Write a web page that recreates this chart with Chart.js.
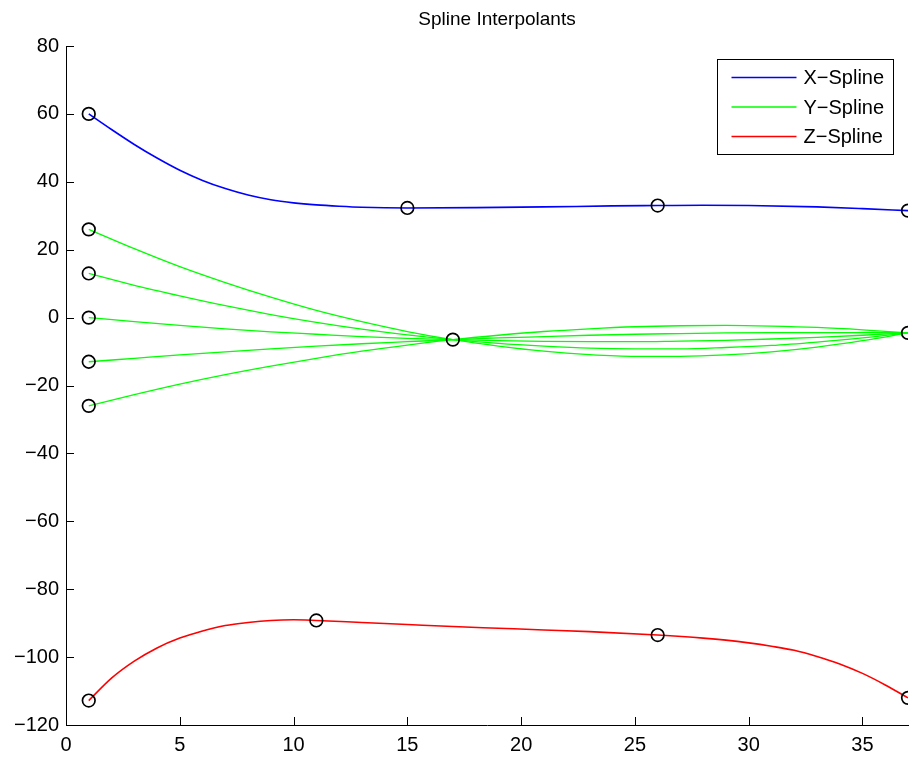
<!DOCTYPE html>
<html>
<head>
<meta charset="utf-8">
<title>Spline Interpolants</title>
<script src="https://cdn.jsdelivr.net/npm/chart.js@4.4.1/dist/chart.umd.min.js"></script>
<style>
  html, body { margin: 0; padding: 0; background: #fff; }
</style>
</head>
<body>
<canvas id="splineChart" width="917" height="759"></canvas>

<script>
// values
const plotTitle = 'Spline Interpolants';

const xSplineX = [1, 2, 3, 4, 5, 6, 7, 8, 9, 10, 11, 12, 13, 15, 18, 21, 24, 26, 28, 30, 33, 35, 37];
const xSplineY = [60, 55.4, 51.0, 47.0, 43.4, 40.4, 38.0, 36.1, 34.7, 33.8, 33.2, 32.8, 32.5, 32.3, 32.4, 32.6, 32.9, 33.0, 33.1, 33.0, 32.6, 32.1, 31.5];

const ySplineX = [1, 3, 5, 7, 9, 11, 13, 15, 17, 19, 21, 23, 25, 27, 29, 31, 33, 35, 37];
const ySpline1 = [26, 20.3, 15.0, 10.3, 6.0, 2.1, -1.2, -4.1, -6.5, -8.4, -9.9, -10.9, -11.4, -11.4, -11.0, -10.1, -8.7, -6.8, -4.5];
const ySpline2 = [13, 9.5, 6.4, 3.5, 0.9, -1.4, -3.4, -5.1, -6.5, -7.6, -8.4, -9.0, -9.2, -9.2, -8.8, -8.2, -7.2, -6.0, -4.5];
const ySpline3 = [0, -1.2, -2.3, -3.3, -4.2, -4.9, -5.6, -6.1, -6.5, -6.8, -7.0, -7.1, -7.1, -6.9, -6.7, -6.3, -5.8, -5.2, -4.5];
const ySpline4 = [-13, -12.0, -11.0, -10.1, -9.2, -8.4, -7.7, -7.1, -6.5, -6.0, -5.6, -5.2, -4.9, -4.7, -4.5, -4.4, -4.4, -4.4, -4.5];
const ySpline5 = [-26, -22.7, -19.6, -16.8, -14.3, -12.0, -9.9, -8.1, -6.5, -5.2, -4.1, -3.3, -2.7, -2.4, -2.3, -2.5, -2.9, -3.6, -4.5];

const zSplineX = [1, 2, 3, 4, 5, 6, 7, 8, 9, 10, 11, 13, 15, 17, 19, 21, 23, 26, 28, 29, 30, 31, 32, 33, 34, 35, 36, 37];
const zSplineY = [-112.8, -106.2, -101.2, -97.3, -94.4, -92.3, -90.7, -89.8, -89.2, -89.0, -89.2, -89.8, -90.4, -91.0, -91.5, -92.0, -92.5, -93.5, -94.4, -95.0, -95.8, -96.8, -98.0, -99.8, -102.0, -104.8, -108.2, -112.0];

// data knots (black circles)
const knotX = [1, 15, 26, 37, 1, 1, 1, 1, 1, 17, 37, 1, 11, 26, 37];
const knotY = [60, 32.3, 33.0, 31.5, 26, 13, 0, -13, -26, -6.5, -4.5, -112.8, -89.2, -93.5, -112.0];

const legendLabels = ['X\u2212Spline', 'Y\u2212Spline', 'Z\u2212Spline'];
const legendColors = ['#0000ff', '#00ff00', '#ff0000'];

function pts(xs, ys) {
  return xs.map((v, i) => ({ x: v, y: ys[i] }));
}

function line(xs, ys, color, width) {
  return {
    data: pts(xs, ys),
    borderColor: color,
    borderWidth: width,
    pointRadius: 0,
    fill: false,
    cubicInterpolationMode: 'monotone',
    order: 2
  };
}

const FONT = '"Liberation Sans", Arial, sans-serif';

// inward ticks, title and legend box drawn like the matlab figure
const matlabLook = {
  id: 'matlabLook',
  afterDraw(chart) {
    const { ctx, chartArea: a, scales: { x, y } } = chart;
    ctx.save();
    ctx.strokeStyle = '#000';
    ctx.lineWidth = 1;
    ctx.beginPath();
    x.ticks.forEach(t => {
      const px = Math.round(x.getPixelForValue(t.value)) + 0.5;
      ctx.moveTo(px, a.bottom);
      ctx.lineTo(px, a.bottom - 8);
    });
    y.ticks.forEach(t => {
      const py = Math.round(y.getPixelForValue(t.value)) + 0.5;
      ctx.moveTo(a.left, py);
      ctx.lineTo(a.left + 8, py);
    });
    ctx.stroke();

    ctx.fillStyle = '#000';
    ctx.font = '19px ' + FONT;
    ctx.textAlign = 'center';
    ctx.textBaseline = 'middle';
    ctx.fillText(plotTitle, (a.left + a.right) / 2 + 10, 20);

    // legend
    const bx = a.right - 190.5, by = a.top + 13.5, bw = 176, bh = 95;
    ctx.fillStyle = '#fff';
    ctx.fillRect(bx, by, bw, bh);
    ctx.strokeStyle = '#000';
    ctx.strokeRect(bx, by, bw, bh);
    ctx.font = '20px ' + FONT;
    ctx.textAlign = 'left';
    ctx.lineWidth = 1.3;
    legendLabels.forEach((lab, i) => {
      const ry = by + 18 + i * 29.5;
      ctx.strokeStyle = legendColors[i];
      ctx.beginPath();
      ctx.moveTo(bx + 14, ry);
      ctx.lineTo(bx + 79, ry);
      ctx.stroke();
      ctx.fillStyle = '#000';
      ctx.fillText(lab, bx + 86, ry + 1);
    });
    ctx.restore();
  }
};

const minus = v => String(v).replace('-', '\u2212');

new Chart(document.getElementById('splineChart'), {
  type: 'line',
  data: {
    datasets: [
      {
        data: pts(knotX, knotY),
        showLine: false,
        pointStyle: 'circle',
        pointRadius: 6.3,
        pointBorderWidth: 1.7,
        pointBorderColor: '#000',
        pointBackgroundColor: 'rgba(0,0,0,0)',
        order: 1
      },
      line(xSplineX, xSplineY, '#0000ff', 1.6),
      line(ySplineX, ySpline1, '#00ff00', 1.3),
      line(ySplineX, ySpline2, '#00ff00', 1.3),
      line(ySplineX, ySpline3, '#00ff00', 1.3),
      line(ySplineX, ySpline4, '#00ff00', 1.3),
      line(ySplineX, ySpline5, '#00ff00', 1.3),
      line(zSplineX, zSplineY, '#ff0000', 1.6)
    ]
  },
  options: {
    responsive: false,
    animation: false,
    events: [],
    layout: { padding: { top: 46, right: 9, left: 0, bottom: 0 } },
    plugins: {
      legend: { display: false },
      title: { display: false },
      tooltip: { enabled: false }
    },
    scales: {
      x: {
        type: 'linear',
        min: 0,
        max: 37,
        grid: { display: false, drawTicks: false },
        border: { display: true, color: '#000', width: 1 },
        ticks: {
          stepSize: 5,
          includeBounds: false,
          padding: 8,
          color: '#000',
          font: { family: FONT, size: 20 },
          maxRotation: 0
        },
        afterFit: s => { s.height = 34; }
      },
      y: {
        type: 'linear',
        min: -120,
        max: 80,
        grid: { display: false, drawTicks: false },
        border: { display: true, color: '#000', width: 1 },
        ticks: {
          stepSize: 20,
          padding: 7,
          color: '#000',
          font: { family: FONT, size: 20 },
          callback: v => minus(v)
        },
        afterFit: s => { s.width = 66; }
      }
    }
  },
  plugins: [matlabLook]
});
</script>
</body>
</html>
